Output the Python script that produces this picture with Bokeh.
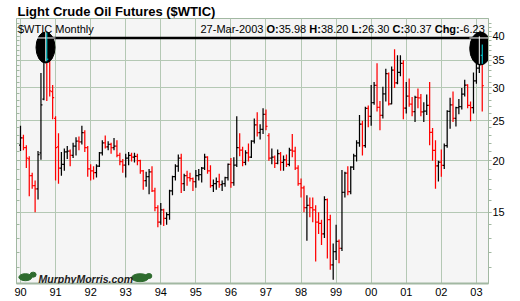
import numpy as np
from bokeh.plotting import figure
from bokeh.models import (Range1d, FixedTicker, LogAxis, Label, ColumnDataSource,
                          PrintfTickFormatter, CustomJSTickFormatter)
from bokeh.embed import file_html
from bokeh.resources import INLINE

# ---------------- data ----------------
TITLE = "Light Crude Oil Futures ($WTIC)"
SERIES_NAME = "$WTIC Monthly"
LAST_DATE = "27-Mar-2003"
WATERMARK = "MurphyMorris.com"

START_YEAR = 1990          # first bar = Jan 1990, one bar per month
PREV_CLOSE = 21.82         # Dec 1989 close (colour of the first bar)

opens = [
    21.8, 22.7, 21.5, 20.2, 18.4, 17.4, 17.1, 20.9, 28.2, 39.6, 35.2, 29.4,
    25.3, 21.6, 19.2, 19.6, 21.0, 21.1, 20.6, 21.7, 22.3, 22.2, 23.4, 21.5,
    19.1, 18.9, 18.7, 19.4, 20.9, 22.1, 21.6, 21.9, 21.5, 21.7, 20.6, 19.9,
    19.5, 20.3, 20.6, 20.4, 20.5, 20.0, 18.9, 17.9, 18.3, 18.8, 16.9, 15.4,
    14.2, 15.2, 14.5, 14.8, 16.9, 18.3, 19.4, 20.3, 17.6, 18.4, 18.2, 18.1,
    17.8, 18.4, 18.5, 19.2, 20.4, 18.9, 17.4, 17.6, 17.8, 17.5, 17.6, 18.2,
    19.6, 17.7, 19.5, 21.5, 21.2, 19.8, 20.9, 20.4, 22.3, 24.4, 23.4, 23.8,
    25.9, 23.0, 20.3, 20.4, 19.7, 20.8, 19.8, 20.1, 19.6, 21.2, 21.1, 19.2,
    17.6, 17.2, 15.4, 15.6, 15.4, 15.2, 14.2, 14.1, 13.3, 16.1, 14.4, 11.2,
    12.05, 12.75, 12.27, 16.76, 18.66, 16.84, 19.29, 20.53, 22.10, 24.51, 21.75, 26.76,
    25.60, 27.64, 30.43, 26.90, 25.74, 29.01, 32.50, 27.43, 33.12, 30.84, 32.70, 34.40,
    26.80, 28.66, 27.39, 26.29, 28.46, 28.37, 26.25, 26.35, 27.20, 23.43, 21.18, 19.44,
    19.84, 19.48, 21.74, 26.31, 27.29, 25.31, 26.86, 27.02, 28.98, 30.45, 27.22, 26.89,
    31.20, 33.51, 35.98,
]
highs = [
    24.3, 23.1, 21.8, 20.5, 18.7, 17.9, 21.1, 32.6, 39.6, 41.2, 35.6, 30.5,
    25.6, 23.3, 21.0, 21.4, 21.7, 21.3, 22.1, 22.8, 22.9, 24.3, 23.7, 21.7,
    19.6, 19.4, 19.6, 21.0, 22.4, 23.0, 22.3, 22.1, 22.7, 22.4, 20.9, 20.2,
    20.8, 21.0, 20.9, 20.9, 20.8, 20.1, 19.0, 18.8, 19.1, 19.4, 17.2, 15.6,
    15.8, 15.3, 15.0, 17.0, 18.4, 19.6, 20.7, 20.8, 18.6, 18.9, 18.7, 18.2,
    19.0, 19.1, 19.3, 20.8, 20.5, 19.5, 18.0, 18.2, 18.6, 17.9, 18.3, 19.7,
    20.3, 20.4, 25.6, 23.3, 21.6, 21.2, 22.0, 22.4, 25.3, 26.2, 24.5, 26.8,
    26.6, 23.3, 21.4, 20.6, 21.3, 21.0, 20.6, 20.7, 21.5, 23.2, 21.6, 19.5,
    18.1, 17.4, 16.5, 16.3, 16.3, 15.6, 15.0, 14.4, 16.4, 16.2, 14.8, 12.6,
    14.0, 12.9, 19.0, 18.8, 19.4, 19.4, 20.8, 22.4, 25.8, 25.0, 27.0, 27.2,
    30.5, 31.0, 34.4, 27.9, 30.2, 33.4, 32.7, 33.8, 37.2, 36.0, 36.0, 35.0,
    31.0, 31.6, 28.5, 28.7, 29.9, 29.0, 27.7, 28.9, 31.0, 24.0, 22.4, 20.0,
    21.3, 22.0, 26.5, 28.4, 29.4, 27.0, 28.2, 30.0, 31.4, 30.6, 27.8, 32.7,
    35.0, 39.99, 38.20,
]
lows = [
    21.1, 21.2, 19.2, 16.4, 17.1, 15.0, 16.1, 20.1, 28.0, 27.9, 28.6, 25.2,
    17.9, 17.6, 18.4, 18.9, 20.2, 19.4, 20.3, 20.6, 21.2, 21.9, 21.0, 18.3,
    17.9, 18.0, 18.2, 19.3, 20.6, 21.4, 21.2, 20.8, 21.2, 20.4, 19.5, 18.7,
    18.2, 19.5, 19.9, 19.8, 19.5, 18.6, 17.0, 17.3, 16.6, 16.8, 15.1, 13.8,
    14.0, 13.9, 14.0, 14.4, 16.5, 17.9, 18.8, 16.7, 16.9, 17.4, 17.8, 16.9,
    17.2, 17.9, 17.7, 19.0, 18.6, 17.2, 16.8, 17.0, 17.2, 16.9, 17.3, 17.9,
    17.2, 17.4, 19.3, 20.5, 19.4, 19.5, 19.9, 20.3, 22.0, 22.9, 22.5, 23.2,
    23.7, 20.0, 19.6, 19.2, 19.6, 18.9, 18.9, 19.3, 19.4, 20.4, 19.0, 17.4,
    16.3, 15.0, 12.8, 14.6, 14.2, 11.4, 13.3, 12.5, 13.0, 11.6, 10.9, 10.3,
    11.5, 11.3, 12.1, 16.3, 16.5, 16.6, 19.0, 19.9, 21.6, 20.6, 21.5, 24.1,
    24.3, 27.3, 26.3, 23.7, 25.3, 27.8, 27.2, 27.4, 30.0, 30.6, 32.0, 25.2,
    26.0, 27.0, 25.6, 24.8, 26.8, 25.6, 24.8, 25.8, 21.8, 20.0, 17.1, 17.8,
    18.3, 19.1, 21.5, 23.9, 24.8, 24.2, 25.9, 26.6, 28.6, 26.8, 24.9, 26.0,
    30.7, 32.6, 26.30,
]
closes = [
    22.7, 21.5, 20.3, 18.4, 17.4, 17.1, 20.7, 27.3, 39.5, 35.2, 29.5, 28.4,
    21.5, 19.2, 19.6, 21.0, 21.1, 20.6, 21.7, 22.3, 22.2, 23.4, 21.5, 19.1,
    18.9, 18.7, 19.4, 20.9, 22.1, 21.6, 21.9, 21.5, 21.7, 20.6, 19.9, 19.5,
    20.3, 20.6, 20.4, 20.5, 20.0, 18.9, 17.9, 18.3, 18.8, 16.9, 15.4, 14.2,
    15.2, 14.5, 14.8, 16.9, 18.3, 19.4, 20.3, 17.6, 18.4, 18.2, 18.1, 17.8,
    18.4, 18.5, 19.2, 20.4, 18.9, 17.4, 17.6, 17.8, 17.5, 17.6, 18.2, 19.6,
    17.7, 19.5, 21.5, 21.2, 19.8, 20.9, 20.4, 22.3, 24.4, 23.4, 23.8, 25.9,
    24.2, 20.3, 20.4, 19.7, 20.8, 19.8, 20.1, 19.6, 21.2, 21.1, 19.2, 17.6,
    17.2, 15.4, 15.6, 15.4, 15.2, 14.2, 14.1, 13.3, 16.1, 14.4, 11.2, 12.05,
    12.75, 12.27, 16.76, 18.66, 16.84, 19.29, 20.53, 22.10, 24.51, 21.75, 26.76, 25.60,
    27.64, 30.43, 26.90, 25.74, 29.01, 32.50, 27.43, 33.12, 30.84, 32.70, 34.40, 26.80,
    28.66, 27.39, 26.29, 28.46, 28.37, 26.25, 26.35, 27.20, 23.43, 21.18, 19.44, 19.84,
    19.48, 21.74, 26.31, 27.29, 25.31, 26.86, 27.02, 28.98, 30.45, 27.22, 26.89, 31.20,
    33.51, 36.60, 30.37,
]

year_ticks = list(range(1990, 2004))
year_labels = ["90", "91", "92", "93", "94", "95", "96", "97", "98", "99",
               "00", "01", "02", "03"]
price_ticks = [15, 20, 25, 30, 35, 40]
price_grid = [15, 20, 25, 30, 35]
price_minor = list(range(11, 44))

# ---------------- styling ----------------
FONT = "Liberation Sans"
GRID = "#b4c8b4"
BORDER = "#a2b8a2"
UP = "#000000"
DOWN = "#ff0000"
PX = 1.0 / 35.07            # one screen pixel in years
TICK = 1.5 * PX
BAR_W = 1.25

n = len(closes)
o = np.array(opens); h = np.array(highs); l = np.array(lows); c = np.array(closes)
x = START_YEAR + np.arange(n) / 12.0
prev = np.concatenate([[PREV_CLOSE], c[:-1]])
colors = np.where(c >= prev, UP, DOWN)

src = ColumnDataSource(dict(x=x, xl=x - TICK, xr=x + TICK, o=o, h=h, l=l, c=c, color=colors))

p = figure(width=520, height=301, output_backend="svg", toolbar_location=None,
           x_range=Range1d(1989.886, 2003.345), y_range=Range1d(10.09, 44.16),
           y_axis_type="log", y_axis_location="right",
           min_border_left=16, min_border_right=32, min_border_top=18, min_border_bottom=18,
           background_fill_color="#f5f5f5", border_fill_color="white",
           outline_line_color=BORDER, outline_line_width=1)

# title
p.title.text = TITLE
p.title.text_font = FONT
p.title.text_font_size = "13px"
p.title.text_font_style = "bold"
p.title.text_color = "black"
p.title.align = "left"
p.title.offset = 1
p.title.standoff = 0

# grids
p.xgrid.ticker = FixedTicker(ticks=year_ticks)
p.ygrid.ticker = FixedTicker(ticks=price_grid)
p.xgrid.grid_line_color = GRID
p.ygrid.grid_line_color = GRID

# bottom axis
xa = p.xaxis[0]
xa.ticker = FixedTicker(ticks=year_ticks, minor_ticks=[])
xa.major_label_overrides = {yr: lab for yr, lab in zip(year_ticks, year_labels)}
xa.major_tick_out = 0; xa.major_tick_in = 0
xa.minor_tick_out = 0; xa.minor_tick_in = 0
xa.axis_line_color = BORDER; xa.axis_line_width = 2
xa.major_label_standoff = 4
xa.major_label_text_font = FONT
xa.major_label_text_font_size = "11px"
xa.major_label_text_color = "black"

# right price axis
ya = p.yaxis[0]
ya.ticker = FixedTicker(ticks=price_ticks, minor_ticks=price_minor)
ya.formatter = PrintfTickFormatter(format="%d")
ya.major_tick_out = 3; ya.major_tick_in = 0
ya.minor_tick_out = 3; ya.minor_tick_in = 0
ya.axis_line_color = BORDER
ya.major_tick_line_color = BORDER; ya.minor_tick_line_color = BORDER
ya.major_label_standoff = 1
ya.major_label_text_font = FONT
ya.major_label_text_font_size = "11px"
ya.major_label_text_color = "black"

# left axis: inner ticks only
la = LogAxis(ticker=FixedTicker(ticks=price_ticks, minor_ticks=price_minor),
             formatter=CustomJSTickFormatter(code="return ''"),
             major_tick_in=3, major_tick_out=0, minor_tick_in=3, minor_tick_out=0,
             major_label_standoff=0,
             axis_line_color=BORDER, major_tick_line_color=BORDER,
             minor_tick_line_color=BORDER)
p.add_layout(la, "left")

# OHLC bars
p.segment(x0="x", y0="l", x1="x", y1="h", line_color="color", line_width=BAR_W, source=src)
p.segment(x0="xl", y0="o", x1="x", y1="o", line_color="color", line_width=BAR_W, source=src)
p.segment(x0="x", y0="c", x1="xr", y1="c", line_color="color", line_width=BAR_W, source=src)

# trendline and highlight ovals
TREND = 39.62
L_OVAL = (1990.713, 37.58)
R_OVAL = (2003.117, 37.37)
p.segment(x0=[L_OVAL[0]], y0=[TREND], x1=[R_OVAL[0]], y1=[TREND],
          line_color="black", line_width=2.5)
p.ellipse(x=[L_OVAL[0]], y=[L_OVAL[1]], width=19, height=31,
          width_units="screen", height_units="screen",
          fill_color="black", line_color="black")
p.ellipse(x=[R_OVAL[0]], y=[R_OVAL[1]], width=21.5, height=33,
          width_units="screen", height_units="screen",
          fill_color="black", line_color="black")
p.segment(x0=[1990.428, 2002.80], y0=[TREND, TREND], x1=[1990.998, 2003.345], y1=[TREND, TREND],
          line_color="white", line_width=1)

i_top = int(np.argmax(h[:24]))    # Oct 1990 high bar
CYAN = "#00e0e8"
p.segment(x0=[x[i_top] - PX], y0=[h[i_top]], x1=[x[i_top] - PX], y1=[34.8],
          line_color="white", line_width=1)
p.segment(x0=[x[i_top]], y0=[h[i_top]], x1=[x[i_top]], y1=[34.8],
          line_color=CYAN, line_width=1)
p.segment(x0=[x[i_top]], y0=[c[i_top]], x1=[x[i_top] + TICK], y1=[c[i_top]],
          line_color=CYAN, line_width=1)
p.segment(x0=[x[n - 2]], y0=[h[n - 2]], x1=[x[n - 2]], y1=[34.3],
          line_color="white", line_width=1)
p.segment(x0=[x[n - 1]], y0=[h[n - 1]], x1=[x[n - 1]], y1=[34.3],
          line_color=CYAN, line_width=1)
p.segment(x0=[x[n - 1] - TICK], y0=[o[n - 1]], x1=[x[n - 1]], y1=[o[n - 1]],
          line_color=CYAN, line_width=1)

# watermark (bull, text, bear)
GREEN = "#2e6b2e"
p.ellipse(x=[1990.14, 1990.36], y=[10.45, 10.6], width=[13, 6], height=[7, 5],
          width_units="screen", height_units="screen", fill_color=GREEN, line_color=GREEN)
p.ellipse(x=[1993.41, 1993.66], y=[10.42, 10.52], width=[17, 6], height=[8, 5],
          width_units="screen", height_units="screen", fill_color=GREEN, line_color=GREEN)

# ---------------- texts (frame-relative screen units) ----------------
def add_label(text, sx, sy, size, style="normal", color="black"):
    p.add_layout(Label(x=sx, y=sy, x_units="screen", y_units="screen", text=text,
                       text_font=FONT, text_font_size=size, text_font_style=style,
                       text_color=color, text_baseline="alphabetic", text_align="left"))

add_label(SERIES_NAME, 1.5, 254.7, "11px")
chg = closes[-1] - closes[-2]
pieces = [(LAST_DATE, "normal"), ("O:", "bold"), (f"{opens[-1]:.2f}", "normal"),
          ("H:", "bold"), (f"{highs[-1]:.2f}", "normal"),
          ("L:", "bold"), (f"{lows[-1]:.2f}", "normal"),
          ("C:", "bold"), (f"{closes[-1]:.2f}", "normal"),
          ("Chg:", "bold"), (f"{chg:.2f}", "normal")]
piece_x = [200, 266, 278.2, 308.8, 320.4, 351, 361.4, 392, 403.6, 434.2, 459.2]
for (txt, st), px in zip(pieces, piece_x):
    add_label(txt, px - 16, 254.7, "11px", st)
add_label(WATERMARK, 22, 4.5, "10.5px", "bold italic", "#222222")

open("out.html", "w").write(file_html(p, INLINE))
